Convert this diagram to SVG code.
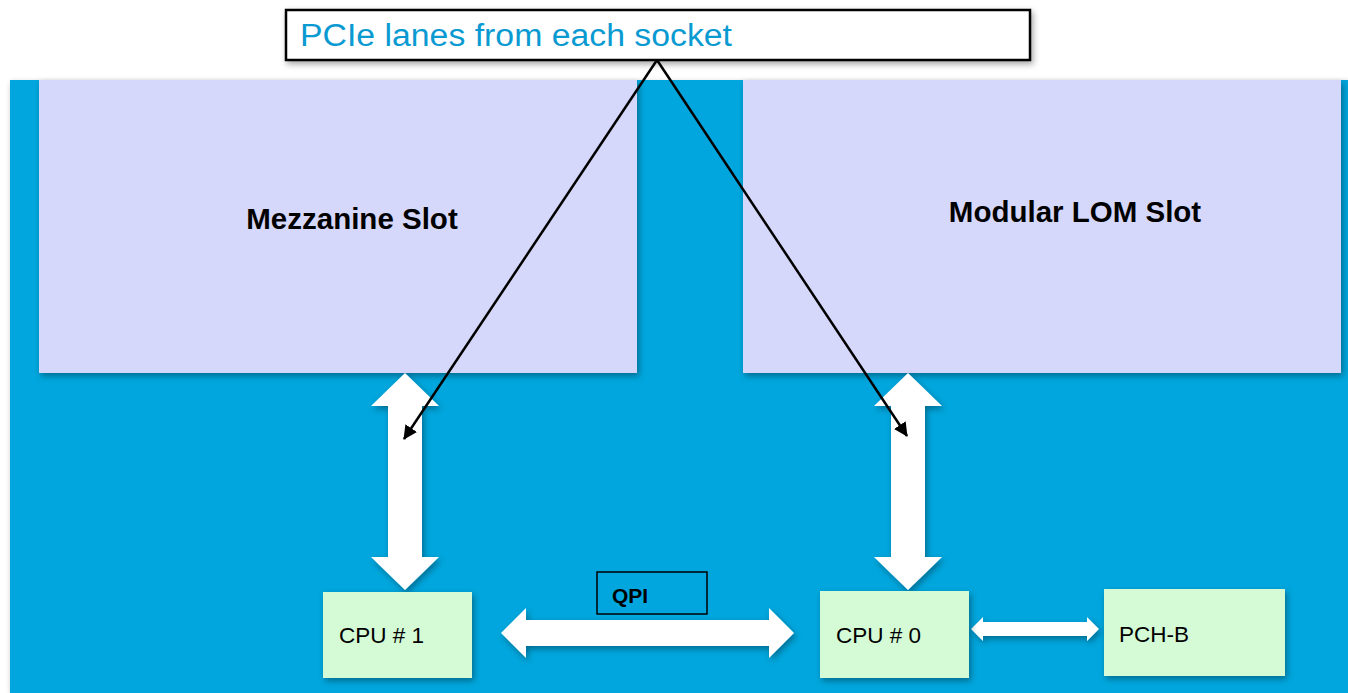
<svg xmlns="http://www.w3.org/2000/svg" width="1348" height="693" viewBox="0 0 1348 693">
<defs>
<filter id="sh" x="-10%" y="-10%" width="130%" height="140%">
<feDropShadow dx="2" dy="3" stdDeviation="3" flood-color="#000" flood-opacity="0.35"/>
</filter>
<marker id="ah2" markerWidth="14" markerHeight="14" refX="13" refY="7" orient="auto" markerUnits="userSpaceOnUse" viewBox="0 0 14 14">
<path d="M0,0 L14,7 L0,14 Z" fill="#000"/>
</marker>
</defs>
<style>
.slot{fill:#d5d7fb;}
.chip{fill:#d4fbd6;}
.big{font-family:"Liberation Sans",Arial,sans-serif;font-weight:bold;font-size:29.5px;fill:#000;}
.lbl{font-family:"Liberation Sans",Arial,sans-serif;font-size:22.5px;fill:#000;}
.wa{fill:#fff;}
</style>
<rect x="0" y="0" width="1348" height="693" fill="#fff"/>
<rect x="10" y="80" width="1338" height="613" fill="#00a6dd" filter="url(#sh)"/>

<g id="mezzanine">
<rect class="slot" x="39" y="80" width="598" height="293" filter="url(#sh)"/>
<text class="big" x="352" y="229" text-anchor="middle">Mezzanine Slot</text>
</g>
<g id="lom">
<rect class="slot" x="743" y="80" width="598" height="293" filter="url(#sh)"/>
<text class="big" x="1075" y="222" text-anchor="middle">Modular LOM Slot</text>
</g>

<g id="connectors">
<path class="wa" filter="url(#sh)" d="M405,373 L439,406 L422,406 L422,557 L439,557 L405,590 L371,557 L388,557 L388,406 L371,406 Z"/>
<path class="wa" filter="url(#sh)" d="M908,373 L942,406 L925,406 L925,557 L942,557 L908,590 L874,557 L891,557 L891,406 L874,406 Z"/>
<path class="wa" filter="url(#sh)" d="M501,633 L526,608 L526,620 L769,620 L769,608 L794,633 L769,658 L769,646 L526,646 L526,658 Z"/>
<path class="wa" filter="url(#sh)" d="M971,629 L983,617 L983,622 L1087,622 L1087,617 L1099,629 L1087,641 L1087,636 L983,636 L983,641 Z"/>
<line x1="657" y1="60" x2="404" y2="439" stroke="#000" stroke-width="2.5" marker-end="url(#ah2)"/>
<line x1="657" y1="60" x2="907" y2="436" stroke="#000" stroke-width="2.5" marker-end="url(#ah2)"/>
</g>

<g id="callout">
<rect x="286" y="10" width="744" height="50" fill="#fff" stroke="#000" stroke-width="2.5" filter="url(#sh)"/>
<text x="300" y="46" font-family="'Liberation Sans',Arial,sans-serif" font-size="31" fill="#0a9ad2" textLength="432" lengthAdjust="spacingAndGlyphs">PCIe lanes from each socket</text>
</g>

<g id="qpi">
<rect x="597" y="572" width="110" height="42" fill="none" stroke="#000" stroke-width="1.5"/>
<text x="612" y="603" font-family="'Liberation Sans',Arial,sans-serif" font-size="21" font-weight="bold" fill="#000">QPI</text>
</g>

<g id="cpu1">
<rect class="chip" x="323" y="592" width="149" height="86" filter="url(#sh)"/>
<text class="lbl" x="339" y="643">CPU # 1</text>
</g>
<g id="cpu0">
<rect class="chip" x="820" y="591" width="149" height="87" filter="url(#sh)"/>
<text class="lbl" x="836" y="643">CPU # 0</text>
</g>
<g id="pchb">
<rect class="chip" x="1104" y="589" width="181" height="87" filter="url(#sh)"/>
<text class="lbl" x="1119" y="642">PCH-B</text>
</g>
</svg>
